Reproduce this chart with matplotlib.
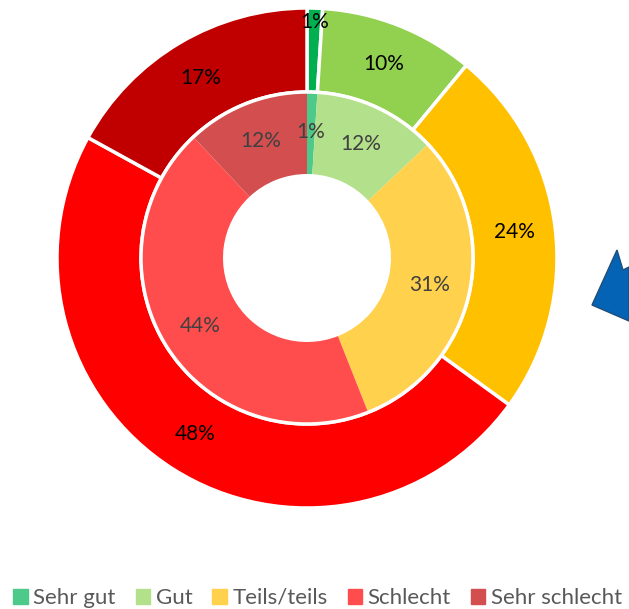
import numpy as np
import matplotlib.pyplot as plt
from matplotlib.patches import Polygon

categories = ["Sehr gut", "Gut", "Teils/teils", "Schlecht", "Sehr schlecht"]
outer_values = [1, 10, 24, 48, 17]
inner_values = [1, 12, 31, 44, 12]

outer_colors = ["#00B050", "#92D050", "#FFC000", "#FF0000", "#C00000"]
inner_colors = ["#4DC989", "#B3E08A", "#FFD14D", "#FF4D4D", "#D34F4F"]

plt.rcParams['font.family'] = ['Lato', 'DejaVu Sans']

fig = plt.figure(figsize=(6.29, 6.09), dpi=100)
W, H = 629, 609
cx, cy, R = 307, 258, 250
ax = fig.add_axes([(cx - R) / W, (H - cy - R) / H, 2 * R / W, 2 * R / H])

r_mid = 166 / R
r_hole = 84 / R

# outer ring
ax.pie(outer_values, radius=1, startangle=90, counterclock=False,
       colors=outer_colors,
       wedgeprops=dict(width=1 - r_mid, edgecolor='white', linewidth=2.5))
# inner ring
wedges, _ = ax.pie(inner_values, radius=r_mid, startangle=90, counterclock=False,
                   colors=inner_colors,
                   wedgeprops=dict(width=r_mid - r_hole, edgecolor='none'))
# white separator between rings
circ = plt.Circle((0, 0), r_mid, fill=False, edgecolor='white', linewidth=2.5)
ax.add_patch(circ)

ax.set_xlim(-1, 1)
ax.set_ylim(-1, 1)
ax.set_aspect('equal')
ax.axis('off')


def label_ring(values, radius, color, extra=None):
    total = sum(values)
    start = 90.0
    for i, v in enumerate(values):
        sweep = 360.0 * v / total
        mid = np.deg2rad(start - sweep / 2)
        r = radius if extra is None or extra[i] is None else extra[i]
        ax.text(r * np.cos(mid), r * np.sin(mid), f"{v}%", ha='center', va='center',
                fontsize=15, color=color)
        start -= sweep


label_ring(outer_values, 209 / R, 'black', extra=[236 / R, None, None, None, None])
label_ring(inner_values, 126 / R, '#404040')

# decorative arrow cut off at the right edge
pts = [(617, 250), (592, 305), (629, 321), (629, 267), (623, 270)]
arrow = Polygon([(x / W, 1 - y / H) for x, y in pts], closed=True,
                transform=fig.transFigure, facecolor='#0563B5', edgecolor='#1F4E79',
                linewidth=1)
fig.patches.append(arrow)

handles = [plt.Rectangle((0, 0), 1, 1, color=c) for c in inner_colors]
fig.legend(handles, categories, loc='center', bbox_to_anchor=(0.505, 1 - 598 / H),
           ncol=5, frameon=False, fontsize=16, handlelength=0.65, handleheight=0.65,
           handletextpad=0.25, columnspacing=0.9, labelcolor='#595959',
           borderpad=0, borderaxespad=0)

fig.savefig('out.png', dpi=100)
